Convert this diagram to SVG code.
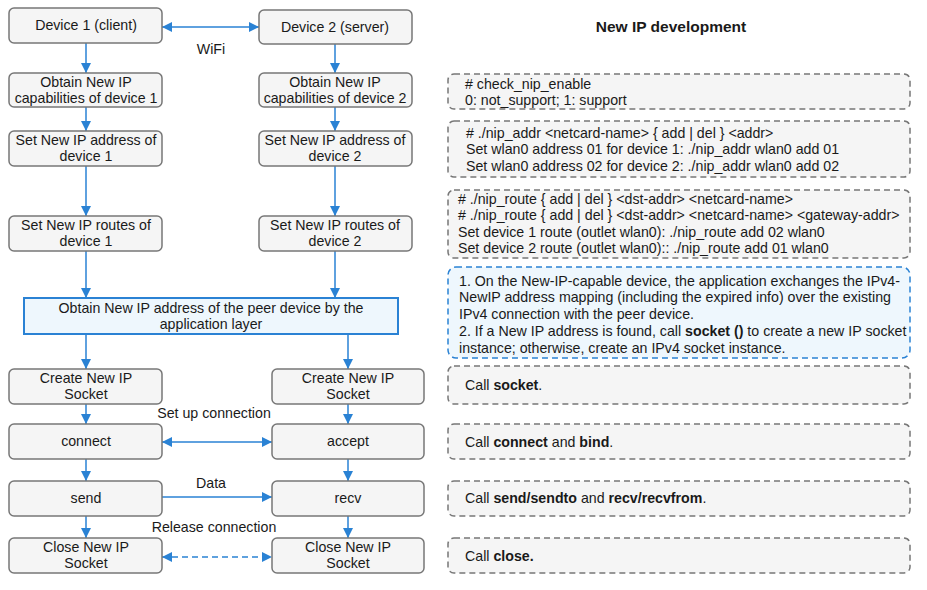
<svg xmlns="http://www.w3.org/2000/svg" width="927" height="590" viewBox="0 0 927 590">
<style>
text{font-family:"Liberation Sans",Arial,sans-serif;font-size:14.2px;fill:#1a1a1a}
.c{text-anchor:middle}
.b{font-weight:bold}
.box{fill:#f5f5f5;stroke:#777;stroke-width:1.5}
.blue{fill:#eef7fd;stroke:#2a82d4;stroke-width:2}
.note{fill:#f5f5f5;stroke:#777;stroke-width:1.5;stroke-dasharray:6 4}
.bnote{fill:#eef7fd;stroke:#2a82d4;stroke-width:1.5;stroke-dasharray:6 4}
.ln{stroke:#2a82d4;stroke-width:1.5;fill:none}
.t{font-size:15.5px;font-weight:bold}
</style>
<defs>
<marker id="ah" viewBox="0 0 10 10" refX="10" refY="5" markerWidth="10" markerHeight="10" markerUnits="userSpaceOnUse" orient="auto-start-reverse">
<path d="M0,0 L10,5 L0,10 z" fill="#2a82d4"/>
</marker>
</defs>
<rect width="927" height="590" fill="#fff"/>

<g id="connectors">
<line class="ln" x1="162" y1="27" x2="259" y2="27" marker-start="url(#ah)" marker-end="url(#ah)"/>
<line class="ln" x1="86" y1="43" x2="86" y2="73" marker-end="url(#ah)"/>
<line class="ln" x1="86" y1="107" x2="86" y2="131" marker-end="url(#ah)"/>
<line class="ln" x1="86" y1="166" x2="86" y2="216" marker-end="url(#ah)"/>
<line class="ln" x1="86" y1="251" x2="86" y2="298" marker-end="url(#ah)"/>
<line class="ln" x1="86" y1="334" x2="86" y2="369" marker-end="url(#ah)"/>
<line class="ln" x1="86" y1="404" x2="86" y2="424" marker-end="url(#ah)"/>
<line class="ln" x1="86" y1="459" x2="86" y2="481" marker-end="url(#ah)"/>
<line class="ln" x1="86" y1="516" x2="86" y2="538" marker-end="url(#ah)"/>
<line class="ln" x1="335" y1="44" x2="335" y2="73" marker-end="url(#ah)"/>
<line class="ln" x1="335" y1="107" x2="335" y2="131" marker-end="url(#ah)"/>
<line class="ln" x1="335" y1="166" x2="335" y2="216" marker-end="url(#ah)"/>
<line class="ln" x1="335" y1="251" x2="335" y2="298" marker-end="url(#ah)"/>
<line class="ln" x1="348" y1="334" x2="348" y2="369" marker-end="url(#ah)"/>
<line class="ln" x1="348" y1="404" x2="348" y2="424" marker-end="url(#ah)"/>
<line class="ln" x1="348" y1="459" x2="348" y2="481" marker-end="url(#ah)"/>
<line class="ln" x1="348" y1="516" x2="348" y2="538" marker-end="url(#ah)"/>
<line class="ln" x1="162" y1="442" x2="272" y2="442" marker-start="url(#ah)" marker-end="url(#ah)"/>
<line class="ln" x1="162" y1="497" x2="272" y2="497" marker-end="url(#ah)"/>
<line class="ln" x1="162" y1="557" x2="272" y2="557" stroke-dasharray="6 4" marker-start="url(#ah)" marker-end="url(#ah)"/>
<text class="c" x="211" y="54">WiFi</text>
<text class="c" x="214" y="418">Set up connection</text>
<text class="c" x="211" y="488">Data</text>
<text class="c" x="214" y="532">Release connection</text>
</g>

<g id="dev1"><rect class="box" x="9" y="8" width="153" height="35" rx="5"/><text class="c" x="86" y="30">Device 1 (client)</text></g>
<g id="dev2"><rect class="box" x="259" y="10" width="153" height="34" rx="5"/><text class="c" x="335" y="32">Device 2 (server)</text></g>
<g id="cap1"><rect class="box" x="9" y="73" width="153" height="34" rx="5"/><text class="c" x="86" y="87">Obtain New IP</text><text class="c" x="86" y="103">capabilities of device 1</text></g>
<g id="cap2"><rect class="box" x="259" y="73" width="153" height="34" rx="5"/><text class="c" x="335" y="87">Obtain New IP</text><text class="c" x="335" y="103">capabilities of device 2</text></g>
<g id="addr1"><rect class="box" x="9" y="131" width="153" height="35" rx="5"/><text class="c" x="86" y="145">Set New IP address of</text><text class="c" x="86" y="161">device 1</text></g>
<g id="addr2"><rect class="box" x="259" y="131" width="153" height="35" rx="5"/><text class="c" x="335" y="145">Set New IP address of</text><text class="c" x="335" y="161">device 2</text></g>
<g id="route1"><rect class="box" x="9" y="216" width="153" height="35" rx="5"/><text class="c" x="86" y="230">Set New IP routes of</text><text class="c" x="86" y="246">device 1</text></g>
<g id="route2"><rect class="box" x="259" y="216" width="153" height="35" rx="5"/><text class="c" x="335" y="230">Set New IP routes of</text><text class="c" x="335" y="246">device 2</text></g>
<g id="peer"><rect class="blue" x="24" y="298" width="374" height="36"/><text class="c" x="211" y="313">Obtain New IP address of the peer device by the</text><text class="c" x="211" y="329">application layer</text></g>
<g id="sock1"><rect class="box" x="9" y="369" width="153" height="35" rx="5"/><text class="c" x="86" y="383">Create New IP</text><text class="c" x="86" y="399">Socket</text></g>
<g id="sock2"><rect class="box" x="272" y="369" width="152" height="35" rx="5"/><text class="c" x="348" y="383">Create New IP</text><text class="c" x="348" y="399">Socket</text></g>
<g id="connect"><rect class="box" x="9" y="424" width="153" height="35" rx="5"/><text class="c" x="86" y="446">connect</text></g>
<g id="accept"><rect class="box" x="272" y="424" width="152" height="35" rx="5"/><text class="c" x="348" y="446">accept</text></g>
<g id="send"><rect class="box" x="9" y="481" width="153" height="35" rx="5"/><text class="c" x="86" y="503">send</text></g>
<g id="recv"><rect class="box" x="272" y="481" width="152" height="35" rx="5"/><text class="c" x="348" y="503">recv</text></g>
<g id="close1"><rect class="box" x="9" y="538" width="153" height="35" rx="5"/><text class="c" x="86" y="552">Close New IP</text><text class="c" x="86" y="568">Socket</text></g>
<g id="close2"><rect class="box" x="272" y="538" width="152" height="35" rx="5"/><text class="c" x="348" y="552">Close New IP</text><text class="c" x="348" y="568">Socket</text></g>

<text class="c t" x="671" y="32">New IP development</text>

<g id="n1"><rect class="note" x="448" y="74" width="462" height="35" rx="6"/><text x="465" y="89">#  check_nip_enable</text><text x="465" y="105">0: not_support; 1: support</text></g>
<g id="n2"><rect class="note" x="448" y="121" width="462" height="56" rx="6"/><text x="466" y="138">#  ./nip_addr &lt;netcard-name&gt; { add | del } &lt;addr&gt;</text><text x="466" y="154">Set wlan0 address 01 for device 1: ./nip_addr wlan0 add 01</text><text x="466" y="171">Set wlan0 address 02 for device 2: ./nip_addr wlan0 add 02</text></g>
<g id="n3"><rect class="note" x="448" y="190" width="462" height="68" rx="6"/><text x="458" y="204">#  ./nip_route { add | del } &lt;dst-addr&gt; &lt;netcard-name&gt;</text><text x="458" y="220">#  ./nip_route { add | del } &lt;dst-addr&gt; &lt;netcard-name&gt; &lt;gateway-addr&gt;</text><text x="458" y="237">Set device 1 route (outlet wlan0): ./nip_route add 02 wlan0</text><text x="458" y="253">Set device 2 route (outlet wlan0):: ./nip_route add 01 wlan0</text></g>
<g id="n4"><rect class="bnote" x="448" y="267" width="462" height="91" rx="8"/><text x="459" y="286">1. On the New-IP-capable device, the application exchanges the IPv4-</text><text x="459" y="302">NewIP address mapping (including the expired info) over the existing</text><text x="459" y="319">IPv4 connection with the peer device.</text><text x="459" y="336">2. If a New IP address is found, call <tspan class="b">socket ()</tspan> to create a new IP socket</text><text x="459" y="353">instance; otherwise, create an IPv4 socket instance.</text></g>
<g id="n5"><rect class="note" x="448" y="366" width="462" height="38" rx="6"/><text x="465" y="390">Call <tspan class="b">socket</tspan>.</text></g>
<g id="n6"><rect class="note" x="448" y="424" width="462" height="35" rx="6"/><text x="465" y="447">Call <tspan class="b">connect</tspan> and <tspan class="b">bind</tspan>.</text></g>
<g id="n7"><rect class="note" x="448" y="481" width="462" height="35" rx="6"/><text x="465" y="503">Call <tspan class="b">send/sendto</tspan> and <tspan class="b">recv/recvfrom</tspan>.</text></g>
<g id="n8"><rect class="note" x="448" y="538" width="462" height="35" rx="6"/><text x="465" y="561">Call <tspan class="b">close.</tspan></text></g>
</svg>
